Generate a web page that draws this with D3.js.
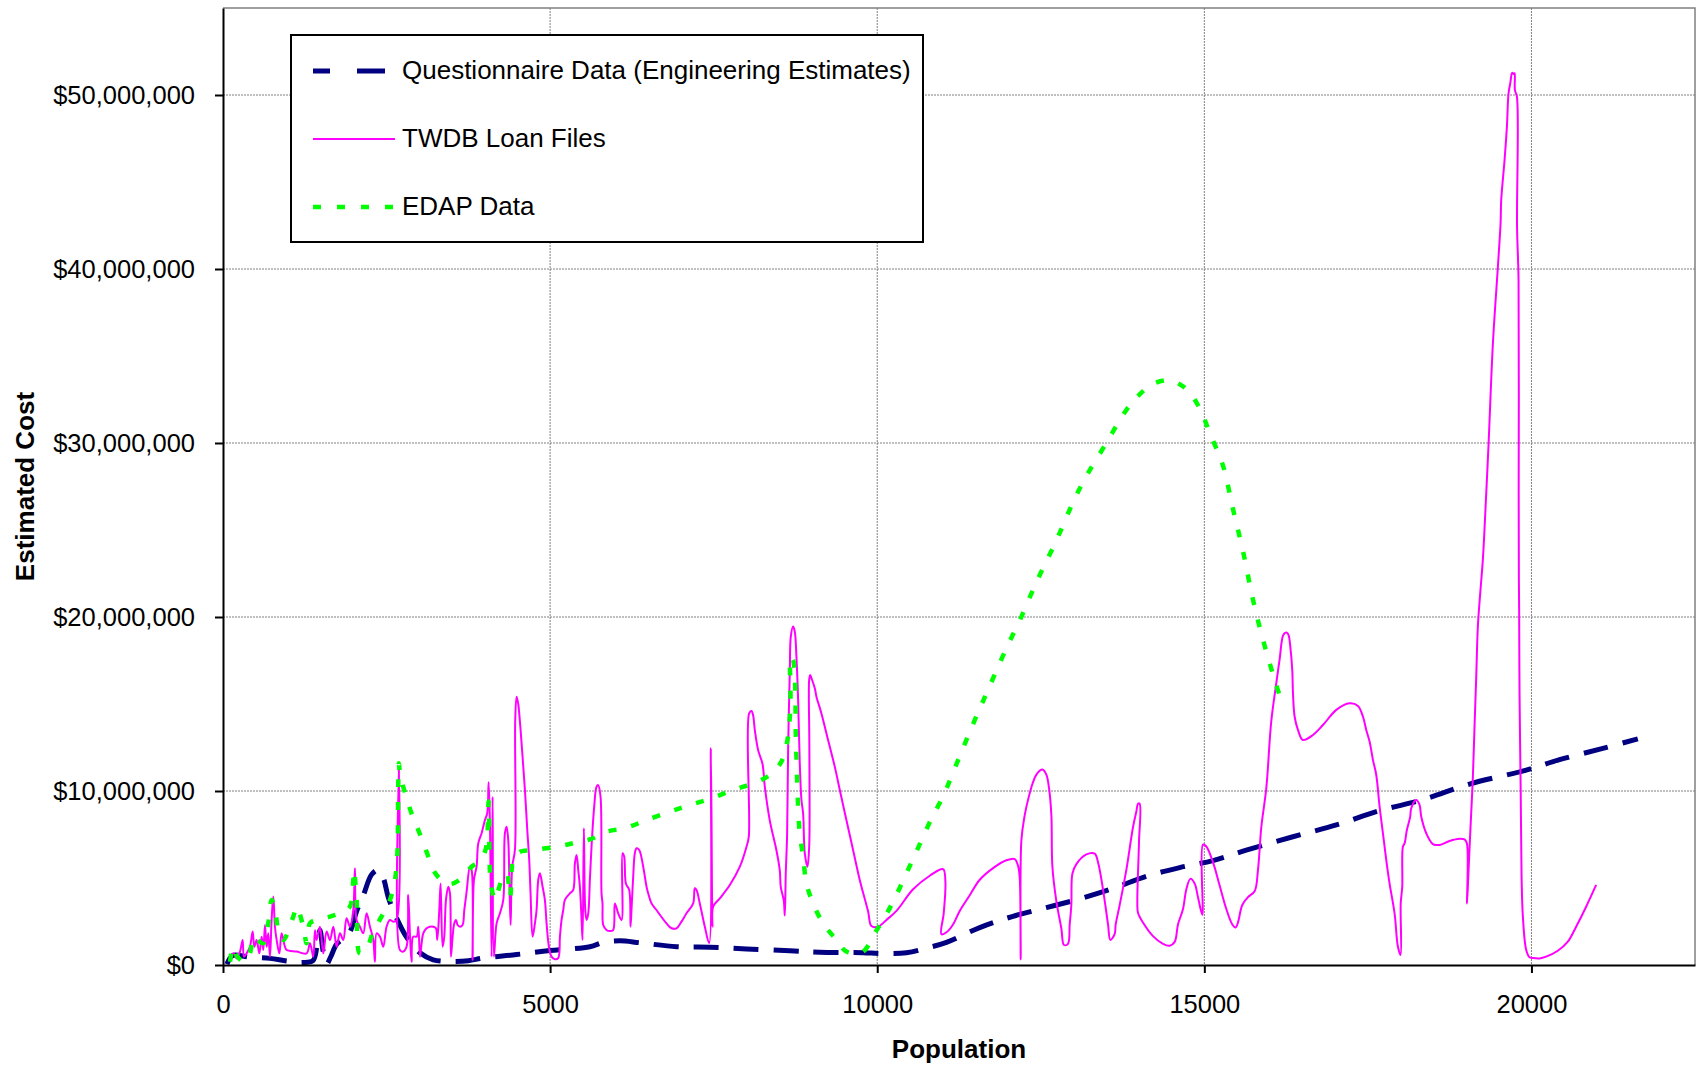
<!DOCTYPE html>
<html>
<head>
<meta charset="utf-8">
<script src="https://cdn.jsdelivr.net/npm/d3@7"></script>
<style>
  html, body { margin: 0; padding: 0; background: #ffffff; }
  svg { display: block; font-family: Arial, "Liberation Sans", sans-serif; }
</style>
</head>
<body>
<script>
// ---------------- DATA ----------------
const xTickValues = [0, 5000, 10000, 15000, 20000];
const yTickValues = [0, 10000000, 20000000, 30000000, 40000000, 50000000];
const seriesNames = ["Questionnaire Data (Engineering Estimates)", "TWDB Loan Files", "EDAP Data"];

// Questionnaire Data (Engineering Estimates): population, cost in $ millions
const questionnairePop = [60,150,400,718,973,1200,1375,1440,1482,1530,1584,1650,1737,1838,1940,2043,2145,2272,2370,2450,2526,2653,2806,3010,3213,3468,3750,3978,4487,4997,5608,5812,6066,6372,6932,7441,8002,8664,9122,9784,10039,10446,10752,11058,11567,12076,12585,13095,13604,14113,14623,15132,15641,16354,17017,17679,18341,19054,19920,20429,21091,21626];
const questionnaireCostM = [0.05,0.55,0.45,0.38,0.23,0.15,0.25,1.2,2.0,0.8,0.05,0.5,1.2,1.5,1.9,3.1,4.0,5.2,5.45,5.0,3.9,2.7,1.6,0.7,0.3,0.2,0.25,0.4,0.6,0.83,1.05,1.3,1.39,1.28,1.05,1.02,0.92,0.82,0.73,0.71,0.66,0.7,0.97,1.3,2.15,2.8,3.3,3.8,4.4,5.1,5.6,6.0,6.6,7.37,8.05,8.87,9.5,10.4,11.2,11.8,12.45,13.0];

// TWDB Loan Files
const twdbPop = [107,158,209,260,300,321,361,412,453,479,514,555,591,616,642,667,692,718,743,769,794,820,861,896,947,973,1125,1278,1329,1380,1406,1431,1482,1533,1584,1635,1686,1737,1788,1838,1889,1940,1991,2017,2042,2093,2144,2195,2246,2297,2322,2348,2399,2450,2500,2551,2602,2653,2689,2704,2755,2806,2831,2857,2882,2908,2960,2985,3011,3036,3061,3112,3163,3214,3255,3275,3306,3326,3357,3382,3408,3443,3469,3484,3510,3535,3561,3586,3622,3662,3688,3724,3774,3800,3815,3836,3876,3902,3953,4004,4039,4060,4080,4106,4121,4141,4182,4233,4284,4309,4335,4360,4376,4396,4421,4462,4467,4488,4513,4528,4549,4579,4615,4651,4681,4701,4732,4768,4793,4819,4844,4885,4920,4946,4982,5022,5073,5124,5150,5175,5201,5226,5302,5353,5379,5404,5430,5455,5481,5496,5516,5537,5557,5583,5608,5633,5674,5710,5735,5771,5786,5801,5812,5862,5913,5964,5990,6041,6092,6107,6132,6158,6209,6229,6244,6270,6295,6321,6362,6423,6474,6499,6550,6626,6779,6856,6932,7008,7085,7187,7212,7238,7288,7365,7431,7457,7482,7492,7594,7747,7900,8002,8037,8042,8078,8103,8129,8180,8246,8282,8358,8460,8511,8526,8572,8587,8602,8623,8638,8664,8679,8714,8740,8765,8791,8816,8842,8867,8893,8934,8960,8966,8962,8960,8975,8995,9046,9071,9147,9249,9351,9428,9529,9631,9733,9861,9911,10013,10141,10294,10548,10803,11007,11042,11017,10981,11058,11159,11261,11414,11567,11771,11974,12102,12153,12178,12193,12203,12254,12305,12371,12433,12524,12585,12626,12662,12677,12738,12814,12855,12916,12942,12967,12983,13044,13197,13324,13375,13451,13528,13563,13629,13645,13706,13808,13910,13961,13986,14011,14001,13976,13986,14062,14215,14368,14470,14547,14597,14674,14725,14786,14852,14903,14969,14979,15030,15132,15234,15336,15428,15478,15514,15580,15667,15769,15820,15871,15947,16023,16100,16150,16212,16263,16288,16314,16344,16355,16380,16431,16507,16660,16813,17017,17220,17348,17424,17475,17526,17577,17628,17679,17730,17781,17831,17908,17959,18000,18002,18025,18035,18061,18096,18147,18162,18239,18290,18315,18392,18494,18595,18748,18901,18977,19013,19015,19039,19069,19105,19130,19156,19181,19217,19257,19309,19345,19411,19487,19528,19538,19589,19625,19650,19676,19706,19727,19742,19747,19778,19780,19803,19805,19808,19812,19818,19836,19849,19869,19920,19971,20021,20124,20225,20403,20556,20683,20836,20989];
const twdbCostM = [0.29,0.67,0.38,0.77,1.44,0.48,0.67,1.05,1.92,1.05,1.44,0.67,1.63,0.86,2.30,1.05,1.82,0.48,2.59,3.93,2.20,1.44,0.67,1.82,1.05,0.86,0.77,0.67,1.25,0.48,2.00,1.44,2.20,0.67,1.92,1.44,2.20,1.05,1.82,1.44,2.68,2.20,3.16,5.56,2.59,2.20,1.82,2.97,2.20,1.44,0.19,1.82,1.63,1.05,2.20,2.59,2.49,2.59,11.30,0.86,0.77,1.05,4.02,1.82,0.19,1.63,1.63,2.20,0.48,1.25,1.82,2.11,2.20,2.20,2.11,1.44,3.16,4.69,1.05,1.63,3.74,4.50,4.12,0.48,1.63,2.39,2.59,2.30,2.20,2.30,3.16,4.22,5.65,5.46,0.29,4.90,5.65,7.00,7.57,8.33,8.72,10.50,8.14,0.48,9.67,0.48,2.39,2.97,3.74,7.57,7.95,7.18,5.08,2.30,5.65,6.61,14.10,15.42,15.00,14.46,13.50,11.97,10.06,7.76,6.03,4.12,1.63,2.39,3.16,4.90,5.27,4.50,3.74,2.39,1.05,0.48,0.33,0.39,1.63,2.59,3.16,3.74,4.12,4.31,5.84,6.32,5.46,4.50,2.59,1.44,7.86,3.16,2.59,2.97,4.90,6.80,9.10,10.25,10.34,9.67,4.12,3.54,2.30,2.01,1.95,2.01,3.54,2.97,2.59,6.42,6.23,4.69,4.31,2.20,3.16,5.08,6.42,6.71,6.61,5.65,4.50,4.12,3.54,3.16,2.39,2.11,2.11,2.49,2.97,3.54,4.41,4.31,3.54,2.20,1.25,12.45,2.20,3.35,3.83,4.60,5.65,6.80,7.38,14.46,14.60,14.35,13.50,12.34,11.57,10.23,8.30,6.58,5.43,4.47,3.70,2.84,5.24,7.54,12.34,16.95,18.87,19.45,19.16,17.72,15.23,11.59,9.48,8.72,6.42,5.65,6.80,9.50,13.00,16.40,16.67,16.48,15.90,15.42,14.46,12.93,11.40,10.06,8.33,6.61,4.89,3.07,2.24,2.20,2.59,3.11,4.35,5.13,5.51,4.79,3.00,1.77,1.88,2.33,3.11,4.01,4.90,5.57,6.02,6.09,5.69,5.02,0.32,7.14,8.60,9.49,10.39,10.94,11.23,10.94,10.16,8.60,5.69,3.67,2.11,1.15,1.22,2.33,3.45,5.24,5.80,6.36,6.40,5.91,4.35,2.33,1.44,1.77,2.33,3.45,5.47,7.93,8.82,9.27,9.27,7.03,3.67,3.00,2.44,1.66,1.22,1.11,1.33,2.33,3.22,4.35,4.95,4.68,3.90,2.89,6.92,6.81,5.91,4.57,3.22,2.33,2.15,2.44,3.45,3.90,4.24,5.47,7.93,10.16,14.00,16.20,17.54,19.00,19.10,18.96,18.30,16.95,15.62,14.28,13.51,12.93,13.22,13.79,14.66,15.04,14.89,14.28,13.51,12.84,11.79,10.92,9.10,7.57,6.03,4.69,2.97,1.05,0.57,3.54,4.50,6.80,6.99,7.76,8.53,9.00,9.48,9.20,8.53,7.57,6.95,6.90,7.13,7.26,7.22,6.99,3.54,5.46,7.95,10.83,13.70,16.57,19.45,21.37,23.28,27.11,29.98,35.73,40.13,42.62,43.97,46.26,48.18,50.10,50.67,51.28,51.21,51.25,50.29,49.90,42.43,39.37,27.11,22.10,20.40,15.60,9.87,5.08,2.78,0.86,0.44,0.40,0.38,0.48,0.82,1.34,2.20,3.35,4.60];

// EDAP Data
const edapPop = [107,158,219,336,413,463,540,616,692,744,810,845,921,1074,1126,1227,1279,1329,1431,1635,1838,1940,1991,2002,2043,2093,2196,2297,2450,2552,2628,2663,2679,2689,2705,2781,2883,2985,3112,3240,3367,3469,3622,3800,3902,4004,4039,4060,4075,4090,4156,4233,4284,4335,4390,4440,4540,4742,5099,5353,5608,5862,6168,6474,6830,7136,7467,7798,8104,8358,8536,8613,8653,8674,8679,8714,8740,8750,8755,8765,8776,8791,8816,8867,8918,9020,9173,9377,9529,9759,9886,9962,10090,10243,10548,10828,11007,11261,11516,11669,11974,12178,12433,12738,13018,13197,13502,13808,14011,14215,14470,14725,14928,15081,15285,15438,15590,15743,15896,16074,16202];
const edapCostM = [0.19,1.05,0.48,0.19,0.67,1.63,1.40,1.25,2.40,3.74,2.78,2.00,1.44,2.78,3.35,2.20,1.25,2.40,2.59,2.78,3.07,3.35,4.89,5.46,3.74,0.67,0.96,1.92,2.97,3.74,4.89,6.22,10.44,11.60,11.00,9.90,8.70,7.76,6.50,5.30,4.80,4.65,4.90,5.65,5.90,6.51,7.37,9.40,6.00,4.90,3.74,4.60,5.08,5.27,3.90,6.10,6.51,6.61,6.80,7.00,7.22,7.66,7.89,8.33,8.81,9.20,9.58,10.06,10.44,10.92,11.69,12.64,13.70,15.23,17.72,17.53,16.57,15.23,13.31,11.97,10.63,9.10,7.57,6.23,4.69,3.54,2.39,1.44,0.77,0.71,1.25,1.82,2.59,3.64,6.10,8.40,9.70,12.00,14.30,15.60,18.20,19.80,22.00,24.40,26.80,28.10,30.00,31.90,32.80,33.40,33.60,33.10,32.00,30.60,28.70,26.20,23.80,21.00,18.70,16.40,14.90];

// ---------------- CHART ----------------
const W = 1698, H = 1067;
const plot = { left: 223, top: 8, right: 1695, bottom: 965 };

const svg = d3.select("body").append("svg")
  .attr("width", W).attr("height", H)
  .attr("viewBox", `0 0 ${W} ${H}`);

const x = d3.scaleLinear().domain([0, 22500]).range([plot.left, plot.right]);
const y = d3.scaleLinear().domain([0, 55000000]).range([plot.bottom, plot.top]);

// gridlines
const grid = svg.append("g");
grid.selectAll("line.vg").data(xTickValues.filter(d => d > 0)).enter().append("line")
  .attr("x1", d => x(d)).attr("x2", d => x(d))
  .attr("y1", plot.top).attr("y2", plot.bottom)
  .attr("stroke", "#808080").attr("stroke-width", 1).attr("stroke-dasharray", "2,1");
grid.selectAll("line.hg").data(yTickValues.filter(d => d > 0)).enter().append("line")
  .attr("x1", plot.left).attr("x2", plot.right)
  .attr("y1", d => y(d)).attr("y2", d => y(d))
  .attr("stroke", "#808080").attr("stroke-width", 1).attr("stroke-dasharray", "2,1");

// plot border (top / right)
svg.append("path")
  .attr("d", `M${plot.left},${plot.top}H${plot.right}V${plot.bottom}`)
  .attr("fill", "none").attr("stroke", "#808080").attr("stroke-width", 1.5);

// clip
svg.append("clipPath").attr("id", "clip").append("rect")
  .attr("x", plot.left).attr("y", plot.top)
  .attr("width", plot.right - plot.left).attr("height", plot.bottom - plot.top);

const line = d3.line()
  .x(d => x(d[0])).y(d => y(d[1] * 1e6))
  .curve(d3.curveCatmullRom.alpha(0.5));

const series = [
  { pts: d3.zip(questionnairePop, questionnaireCostM), color: "#000080", width: 5, dash: "25,15", legDash: "17,27,28,40" },
  { pts: d3.zip(twdbPop, twdbCostM), color: "#FF00FF", width: 2, dash: null, legDash: null },
  { pts: d3.zip(edapPop, edapCostM), color: "#00FF00", width: 4.5, dash: "8,15", legDash: "8,16" }
];

const lines = svg.append("g").attr("clip-path", "url(#clip)");
series.forEach(s => {
  lines.append("path")
    .attr("d", line(s.pts))
    .attr("fill", "none")
    .attr("stroke", s.color)
    .attr("stroke-width", s.width)
    .attr("stroke-linejoin", "round")
    .attr("stroke-dasharray", s.dash);
});

// axes
const yAxis = d3.axisLeft(y).tickValues(yTickValues).tickFormat(d3.format("$,"))
  .tickSize(8).tickSizeOuter(0).tickPadding(20);
const xAxis = d3.axisBottom(x).tickValues(xTickValues).tickFormat(d3.format("d"))
  .tickSize(8).tickSizeOuter(0).tickPadding(22);

const gy = svg.append("g").attr("transform", `translate(${plot.left},0)`).call(yAxis);
const gx = svg.append("g").attr("transform", `translate(0,${plot.bottom})`).call(xAxis);
[gx, gy].forEach(g => {
  g.select(".domain").attr("stroke", "#000").attr("stroke-width", 2);
  g.selectAll(".tick line").attr("stroke", "#000").attr("stroke-width", 2);
  g.selectAll(".tick text").attr("fill", "#000")
    .style("font-family", 'Arial, "Liberation Sans", sans-serif')
    .style("font-size", "25.5px");
});

// axis titles
svg.append("text")
  .attr("x", (plot.left + plot.right) / 2).attr("y", 1058)
  .attr("text-anchor", "middle")
  .style("font-size", "26px").style("font-weight", "bold")
  .text("Population");
svg.append("text")
  .attr("transform", `translate(34,${(plot.top + plot.bottom) / 2}) rotate(-90)`)
  .attr("text-anchor", "middle")
  .style("font-size", "26px").style("font-weight", "bold")
  .text("Estimated Cost");

// legend
const leg = svg.append("g");
leg.append("rect")
  .attr("x", 291).attr("y", 35).attr("width", 632).attr("height", 207)
  .attr("fill", "#fff").attr("stroke", "#000").attr("stroke-width", 2);
const legRows = [71, 139, 207];
const legX2 = [385, 395, 393];
series.forEach((s, i) => {
  leg.append("line")
    .attr("x1", 313).attr("x2", legX2[i])
    .attr("y1", legRows[i]).attr("y2", legRows[i])
    .attr("stroke", s.color).attr("stroke-width", s.width)
    .attr("stroke-dasharray", s.legDash);
  leg.append("text")
    .attr("x", 402).attr("y", legRows[i] + 8)
    .style("font-size", "26px")
    .attr("fill", "#000")
    .text(seriesNames[i]);
});
</script>
</body>
</html>
